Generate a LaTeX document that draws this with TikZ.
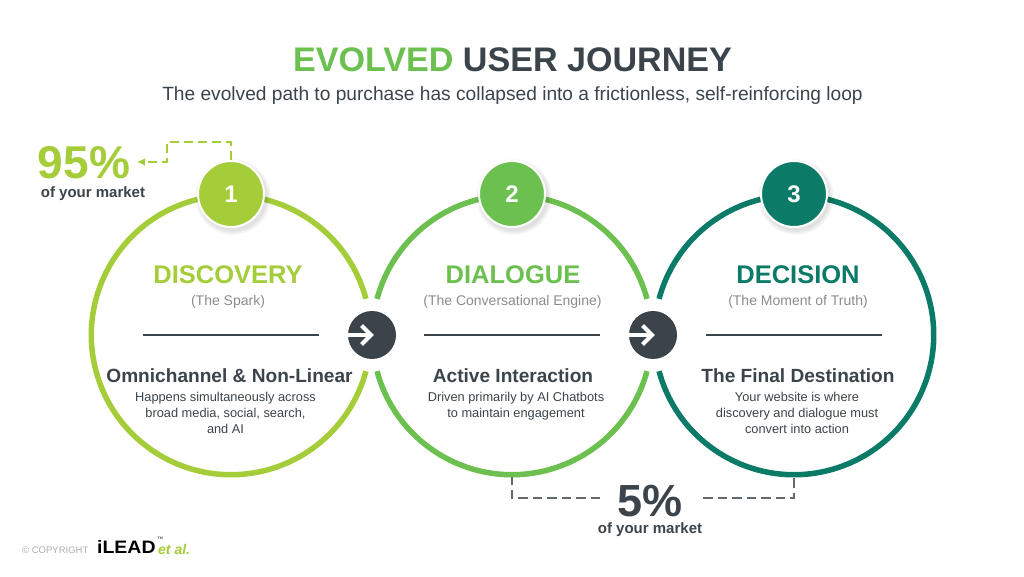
\documentclass[tikz,border=0pt]{standalone}
\usepackage{fontspec}
\setmainfont{Liberation Sans}
\usetikzlibrary{arrows.meta}
\definecolor{lime}{HTML}{A4CD39}
\definecolor{midgreen}{HTML}{6CC04F}
\definecolor{teal}{HTML}{0B7A66}
\definecolor{slate}{HTML}{3B444B}
\definecolor{softgray}{HTML}{8C8C8C}
\newcommand{\fs}[1]{\fontsize{#1}{#1}\selectfont}
\tikzset{
  x=1pt,y=1pt,
  ringline/.style={line width=5.5pt},
  rule/.style={draw=slate,line width=1.2pt},
  badge/.style={circle,minimum size=66pt,inner sep=0pt,draw=white,line width=2pt,text=white,font=\bfseries\fs{24}},
  heading/.style={font=\bfseries\fs{25.5},anchor=center},
  subhead/.style={font=\fs{14},text=softgray,anchor=center},
  lead/.style={font=\bfseries\fs{19.1},text=slate,anchor=center},
  desc/.style={font=\fs{12.8},text=slate,align=center,anchor=north},
  marketbig/.style={font=\bfseries\fs{46},anchor=center,inner sep=0pt,text height=33pt,text depth=0pt},
  marketsmall/.style={font=\bfseries\fs{15},text=slate,anchor=center,inner sep=0pt},
  dashlime/.style={draw=lime,line width=1.6pt,dash pattern=on 9pt off 5pt},
  dashgray/.style={draw=slate!80,line width=1.8pt,dash pattern=on 9.5pt off 5pt},
  arrowmark/.style={draw=white,line width=4.2pt},
}
\newcommand{\softshadow}[2]{%
  \foreach \r in {38,37,36,35,34}{\fill[black,opacity=.025] (#1+2,#2-3) circle[radius=\r];}}
\newcommand{\arrowdisc}[3]{%
  \node[circle,fill=slate,minimum size=48pt,inner sep=0pt] (#3) at (#1,#2) {};
  \draw[arrowmark] (#1-24,#2) -- (#1-3,#2);
  \draw[arrowmark,line join=miter] (#1-10.5,#2+9.5) -- (#1-1,#2) -- (#1-10.5,#2-9.5);
}
\begin{document}
\begin{tikzpicture}
\useasboundingbox (0,0) rectangle (1024,576);
\fill[white] (0,0) rectangle (1024,576);
% title
\node[font=\bfseries\fs{34.1},anchor=center] (title) at (512.5,516) {\textcolor{midgreen}{EVOLVED} \textcolor{slate}{USER JOURNEY}};
\node[font=\fs{19.15},text=slate,anchor=center] (subtitle) at (512.5,480) {The evolved path to purchase has collapsed into a frictionless, self-reinforcing loop};
% rings
\coordinate (c1) at (231,241);
\coordinate (c2) at (512,241);
\coordinate (c3) at (794,241);
\draw[ringline,lime] ([shift={(15:139.7)}]c1) arc[start angle=15,end angle=345,radius=139.7];
\draw[ringline,midgreen] ([shift={(15:139.7)}]c2) arc[start angle=15,end angle=165,radius=139.7];
\draw[ringline,midgreen] ([shift={(195:139.7)}]c2) arc[start angle=195,end angle=345,radius=139.7];
\draw[ringline,teal] ([shift={(195:139.7)}]c3) arc[start angle=195,end angle=525,radius=139.7];
% badges
\softshadow{231}{382}
\softshadow{512}{382}
\softshadow{794}{382}
\node[badge,fill=lime] (b1) at (231,382) {1};
\node[badge,fill=midgreen] (b2) at (512,382) {2};
\node[badge,fill=teal] (b3) at (794,382) {3};
% arrow discs
\arrowdisc{372}{241}{a1}
\arrowdisc{653}{241}{a2}
% column 1
\node[heading,text=lime] (h1) at (228,301) {DISCOVERY};
\node[subhead] (s1) at (228,274.5) {(The Spark)};
\coordinate (r1l) at (143,241); \coordinate (r1r) at (319,241);
\draw[rule] (r1l) -- (r1r);
\node[lead] (l1) at (229.5,200.5) {Omnichannel \& Non-Linear};
\node[desc] (d1) at (225.5,187.5) {Happens simultaneously across\\[3.2pt]broad media, social, search,\\[3.2pt]and AI};
% column 2
\node[heading,text=midgreen] (h2) at (513,301) {DIALOGUE};
\node[subhead] (s2) at (512.5,274.5) {(The Conversational Engine)};
\coordinate (r2l) at (424,241); \coordinate (r2r) at (600,241);
\draw[rule] (r2l) -- (r2r);
\node[lead] (l2) at (513,200.5) {Active Interaction};
\node[desc] (d2) at (516,187.5) {Driven primarily by AI Chatbots\\[3.2pt]to maintain engagement};
% column 3
\node[heading,text=teal] (h3) at (798,301) {DECISION};
\node[subhead] (s3) at (798,274.5) {(The Moment of Truth)};
\coordinate (r3l) at (706,241); \coordinate (r3r) at (882,241);
\draw[rule] (r3l) -- (r3r);
\node[lead] (l3) at (798,200.5) {The Final Destination};
\node[desc] (d3) at (797,187.5) {Your website is where\\[3.2pt]discovery and dialogue must\\[3.2pt]convert into action};
% market shares
\node[marketbig,text=lime] (p95) at (84,413.5) {95\%};
\node[marketsmall] (m95) at (93,382) {of your market};
\node[marketbig,font=\bfseries\fs{45},text=slate] (p5) at (650,76.5) {5\%};
\node[marketsmall] (m5) at (650,46) {of your market};
\coordinate (t1) at (231,434); \coordinate (t2) at (167,434); \coordinate (t3) at (167,414);
\coordinate (t4) at (137,414);
\draw[dashlime,-{Latex[length=8pt,width=8pt]}] (b1.north) -- (t1) -- (t2) -- (t3) -- (t4);
\coordinate (gl1) at (512,99); \coordinate (gl2) at (512,78); \coordinate (gl3) at (600,78);
\coordinate (gr1) at (794,99); \coordinate (gr2) at (794,78); \coordinate (gr3) at (703,78);
\draw[dashgray] (gl3) -- (gl2) -- (gl1);
\draw[dashgray] (gr3) -- (gr2) -- (gr1);
% copyright and logo
\node[font=\fs{9.5},text=softgray!70,anchor=west,inner sep=0pt] (cr) at (22,26) {© COPYRIGHT};
\node[font=\bfseries\fs{18},text=black,anchor=west,inner sep=0pt,xscale=1.08] (logo) at (97,29) {iLEAD};
\node[font=\fs{3.5},text=black,anchor=west,inner sep=0pt] (tm) at (157.5,38) {TM};
\node[font=\bfseries\itshape\fs{14},text=lime,anchor=west,inner sep=0pt] (etal) at (158,27) {et al.};
\end{tikzpicture}
\end{document}
